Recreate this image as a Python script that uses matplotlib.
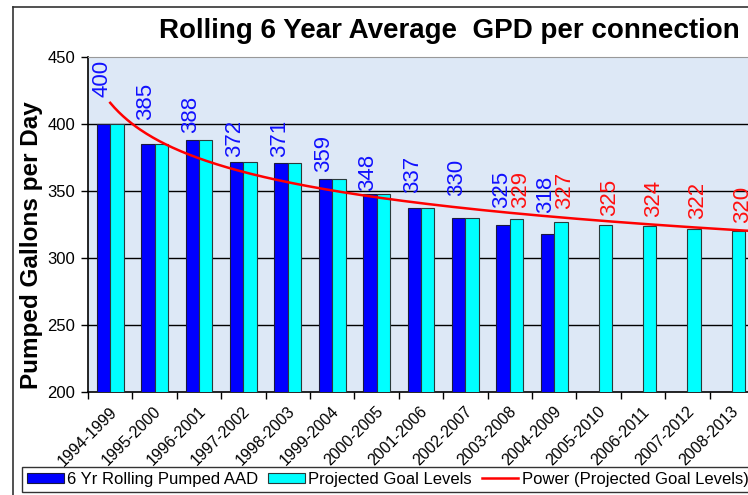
import numpy as np
import matplotlib
matplotlib.use("Agg")
import matplotlib.pyplot as plt
from matplotlib.lines import Line2D
from matplotlib.patches import Patch

plt.rcParams['font.family'] = ['Liberation Sans', 'DejaVu Sans']

categories = ["1994-1999", "1995-2000", "1996-2001", "1997-2002", "1998-2003",
              "1999-2004", "2000-2005", "2001-2006", "2002-2007", "2003-2008",
              "2004-2009", "2005-2010", "2006-2011", "2007-2012", "2008-2013"]
pumped = [400, 385, 388, 372, 371, 359, 348, 337, 330, 325, 318]
goal = [400, 385, 388, 372, 371, 359, 348, 337, 330, 329, 327, 325, 324, 322, 320]

# label gaps (pixels) above bar tops, styling only
pumped_gap = [27, 24, 7, 5, 6, 7, 3, 15, 22, 16, 21]
goal_gap = [0] * 9 + [11, 13, 9, 9, 10, 8]

W, H = 748, 495
fig = plt.figure(figsize=(W / 100, H / 100), dpi=100)
ax = fig.add_axes([88 / W, (H - 392) / H, (754 - 88) / W, (392 - 57) / H])
ax.set_facecolor('#dde8f6')

x = np.arange(len(categories))
bw = 0.3
blue = '#0000ff'
cyan = '#00ffff'
ax.bar(x[:len(pumped)] - bw / 2, pumped, width=bw, color=blue, edgecolor='#1a1a40',
       linewidth=0.8, zorder=3, label='6 Yr Rolling Pumped AAD')
ax.bar(x + bw / 2, goal, width=bw, color=cyan, edgecolor='#2a3a3a',
       linewidth=0.8, zorder=3, label='Projected Goal Levels')

# power trendline fitted to goal levels
xi = np.arange(1, len(goal) + 1)
b, lna = np.polyfit(np.log(xi), np.log(goal), 1)
xs = np.linspace(1, len(goal) + 0.4, 300)
ax.plot(xs - 1, np.exp(lna) * xs ** b, color='#ff0000', lw=1.8, zorder=5,
        label='Power (Projected Goal Levels)')

ax.set_ylim(200, 450)
ax.set_xlim(-0.5, len(categories) - 0.5)
ax.set_yticks(np.arange(200, 451, 50))
ax.tick_params(axis='y', labelsize=12, length=5, width=1, pad=4)
for yv in range(250, 401, 50):
    ax.axhline(yv, color='black', lw=1, zorder=1)

ax.set_xticks(np.arange(len(categories) + 1) - 0.5)
ax.set_xticklabels([])
ax.tick_params(axis='x', length=5, width=1)
for i, c in enumerate(categories):
    ax.annotate(c, xy=(i, 0), xycoords=('data', 'axes fraction'), xytext=(-1, -12),
                textcoords='offset pixels', rotation=45, ha='right', va='top',
                rotation_mode='anchor', fontsize=11.5, annotation_clip=False)

for s in ['left', 'bottom']:
    ax.spines[s].set_color('black')
    ax.spines[s].set_linewidth(1.2)
ax.spines['top'].set_color('#999999')
ax.spines['right'].set_visible(False)

for i, v in enumerate(pumped):
    ax.annotate(str(v), (i - bw / 2, v), xytext=(-2, pumped_gap[i]),
                textcoords='offset pixels', rotation=90, ha='center', va='bottom',
                color='#1010ff', fontsize=16, zorder=6)
for i, v in enumerate(goal):
    if i >= len(pumped) or pumped[i] != v:
        ax.annotate(str(v), (i + bw / 2, v), xytext=(4, goal_gap[i]),
                    textcoords='offset pixels', rotation=90, ha='center', va='bottom',
                    color='#ff1010', fontsize=16, zorder=6)

fig.text(449 / W, 1 - 31 / H, 'Rolling 6 Year Average  GPD per connection',
         ha='center', va='center', fontsize=20, fontweight='bold')
fig.text(32 / W, 1 - 245 / H, 'Pumped Gallons per Day', rotation=90,
         ha='center', va='center', fontsize=17.5, fontweight='bold')

# outer chart border
fig.add_artist(Line2D([13 / W, 13 / W], [0, 1 - 7 / H], color='#333333', lw=1.2))
fig.add_artist(Line2D([13 / W, 1], [1 - 7 / H, 1 - 7 / H], color='#333333', lw=1.2))

handles = [Patch(facecolor=blue, edgecolor='#1a1a40', lw=0.8),
           Patch(facecolor=cyan, edgecolor='#2a3a3a', lw=0.8),
           Line2D([], [], color='#ff0000', lw=1.8)]
labels = ['6 Yr Rolling Pumped AAD', 'Projected Goal Levels', 'Power (Projected Goal Levels)']
leg = fig.legend(handles, labels, loc='upper left', bbox_to_anchor=(22 / W, 1 - 467 / H),
                 ncol=3, fontsize=12, frameon=True, fancybox=False, edgecolor='black',
                 handlelength=2.2, handleheight=0.6, handletextpad=0.2, columnspacing=0.6,
                 borderpad=0.3, borderaxespad=0)
leg.get_frame().set_linewidth(1)

fig.savefig('out.png', dpi=100)
